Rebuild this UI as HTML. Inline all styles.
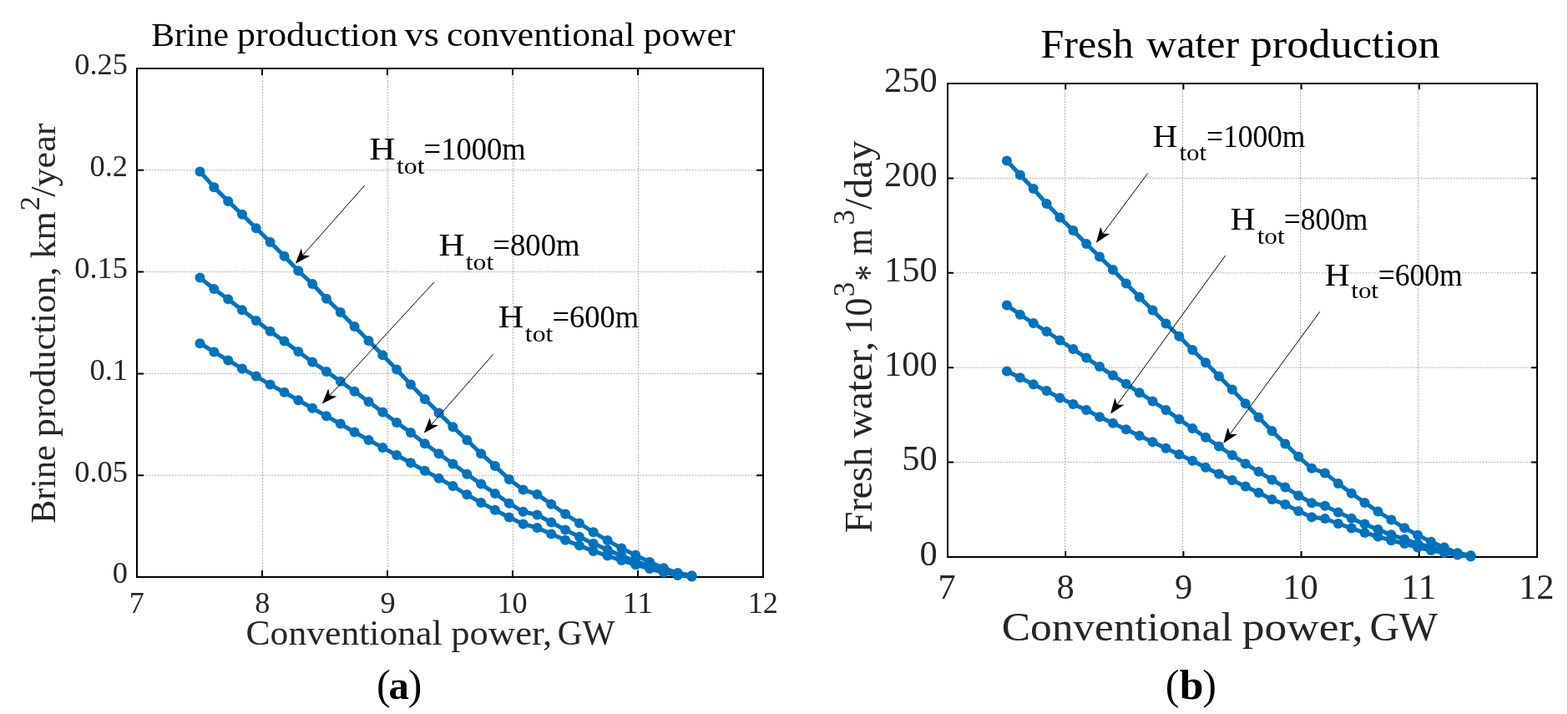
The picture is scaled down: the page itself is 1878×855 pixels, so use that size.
<!DOCTYPE html>
<html><head><meta charset="utf-8"><title>Brine and fresh water production</title>
<style>html,body{margin:0;padding:0;background:#fff;overflow:hidden}svg{display:block}</style></head>
<body><svg width="1878" height="855" viewBox="0 0 1878 855" font-family="'Liberation Serif', 'DejaVu Serif', serif" fill="#000">
<rect x="0" y="0" width="1878" height="855" fill="#fff"/>
<line x1="1877.5" y1="0" x2="1877.5" y2="855" stroke="#c4c4c4" stroke-width="1"/>
<path d="M314.5 82V691M464.5 82V691M614.5 82V691M764.5 82V691M164 569.2H914M164 447.4H914M164 325.6H914M164 203.8H914" stroke="#adadad" stroke-width="1" stroke-dasharray="2 1.5" fill="none"/>
<path d="M164.0 691v-8M164.0 82v8M314.0 691v-8M314.0 82v8M464.0 691v-8M464.0 82v8M614.0 691v-8M614.0 82v8M764.0 691v-8M764.0 82v8M914.0 691v-8M914.0 82v8M164 691.0h8M914 691.0h-8M164 569.2h8M914 569.2h-8M164 447.4h8M914 447.4h-8M164 325.6h8M914 325.6h-8M164 203.8h8M914 203.8h-8M164 82.0h8M914 82.0h-8" stroke="#000" stroke-width="2" fill="none"/>
<rect x="164" y="82" width="750" height="609" stroke="#000" stroke-width="2" fill="none"/>
<polyline points="239.5,205.4 256.3,224.2 273.2,240.9 290.0,256.7 306.8,273.3 323.6,290.0 340.5,306.7 357.3,324.2 374.1,340.0 391.0,357.7 407.8,374.0 424.6,391.0 441.5,408.1 458.3,425.3 475.1,442.5 491.9,460.4 508.8,477.9 525.6,494.4 542.4,511.2 559.3,527.0 576.1,543.2 592.9,558.1 609.8,573.9 626.6,586.5 643.4,591.9 660.2,603.8 677.1,615.6 693.9,626.5 710.7,637.3 727.6,647.1 744.4,656.6 761.2,664.8 778.1,673.0 794.9,680.3 811.7,686.0 828.5,689.3" fill="none" stroke="#0072BD" stroke-width="5" stroke-linejoin="round" stroke-linecap="round"/>
<g fill="#0072BD"><circle cx="239.5" cy="205.4" r="6"/><circle cx="256.3" cy="224.2" r="6"/><circle cx="273.2" cy="240.9" r="6"/><circle cx="290.0" cy="256.7" r="6"/><circle cx="306.8" cy="273.3" r="6"/><circle cx="323.6" cy="290.0" r="6"/><circle cx="340.5" cy="306.7" r="6"/><circle cx="357.3" cy="324.2" r="6"/><circle cx="374.1" cy="340.0" r="6"/><circle cx="391.0" cy="357.7" r="6"/><circle cx="407.8" cy="374.0" r="6"/><circle cx="424.6" cy="391.0" r="6"/><circle cx="441.5" cy="408.1" r="6"/><circle cx="458.3" cy="425.3" r="6"/><circle cx="475.1" cy="442.5" r="6"/><circle cx="491.9" cy="460.4" r="6"/><circle cx="508.8" cy="477.9" r="6"/><circle cx="525.6" cy="494.4" r="6"/><circle cx="542.4" cy="511.2" r="6"/><circle cx="559.3" cy="527.0" r="6"/><circle cx="576.1" cy="543.2" r="6"/><circle cx="592.9" cy="558.1" r="6"/><circle cx="609.8" cy="573.9" r="6"/><circle cx="626.6" cy="586.5" r="6"/><circle cx="643.4" cy="591.9" r="6"/><circle cx="660.2" cy="603.8" r="6"/><circle cx="677.1" cy="615.6" r="6"/><circle cx="693.9" cy="626.5" r="6"/><circle cx="710.7" cy="637.3" r="6"/><circle cx="727.6" cy="647.1" r="6"/><circle cx="744.4" cy="656.6" r="6"/><circle cx="761.2" cy="664.8" r="6"/><circle cx="778.1" cy="673.0" r="6"/><circle cx="794.9" cy="680.3" r="6"/><circle cx="811.7" cy="686.0" r="6"/><circle cx="828.5" cy="689.3" r="6"/></g>
<polyline points="239.5,332.6 256.3,346.0 273.2,358.2 290.0,371.2 306.8,384.0 323.6,396.7 340.5,408.6 357.3,420.9 374.1,433.4 391.0,444.9 407.8,456.8 424.6,468.8 441.5,481.0 458.3,493.6 475.1,506.0 491.9,517.9 508.8,531.2 525.6,543.3 542.4,555.5 559.3,567.7 576.1,579.6 592.9,590.9 609.8,602.8 626.6,612.8 643.4,616.5 660.2,625.5 677.1,634.5 693.9,642.7 710.7,650.9 727.6,658.2 744.4,665.6 761.2,672.1 778.1,677.9 794.9,683.0 811.7,687.5 828.5,690.0" fill="none" stroke="#0072BD" stroke-width="5" stroke-linejoin="round" stroke-linecap="round"/>
<g fill="#0072BD"><circle cx="239.5" cy="332.6" r="6"/><circle cx="256.3" cy="346.0" r="6"/><circle cx="273.2" cy="358.2" r="6"/><circle cx="290.0" cy="371.2" r="6"/><circle cx="306.8" cy="384.0" r="6"/><circle cx="323.6" cy="396.7" r="6"/><circle cx="340.5" cy="408.6" r="6"/><circle cx="357.3" cy="420.9" r="6"/><circle cx="374.1" cy="433.4" r="6"/><circle cx="391.0" cy="444.9" r="6"/><circle cx="407.8" cy="456.8" r="6"/><circle cx="424.6" cy="468.8" r="6"/><circle cx="441.5" cy="481.0" r="6"/><circle cx="458.3" cy="493.6" r="6"/><circle cx="475.1" cy="506.0" r="6"/><circle cx="491.9" cy="517.9" r="6"/><circle cx="508.8" cy="531.2" r="6"/><circle cx="525.6" cy="543.3" r="6"/><circle cx="542.4" cy="555.5" r="6"/><circle cx="559.3" cy="567.7" r="6"/><circle cx="576.1" cy="579.6" r="6"/><circle cx="592.9" cy="590.9" r="6"/><circle cx="609.8" cy="602.8" r="6"/><circle cx="626.6" cy="612.8" r="6"/><circle cx="643.4" cy="616.5" r="6"/><circle cx="660.2" cy="625.5" r="6"/><circle cx="677.1" cy="634.5" r="6"/><circle cx="693.9" cy="642.7" r="6"/><circle cx="710.7" cy="650.9" r="6"/><circle cx="727.6" cy="658.2" r="6"/><circle cx="744.4" cy="665.6" r="6"/><circle cx="761.2" cy="672.1" r="6"/><circle cx="778.1" cy="677.9" r="6"/><circle cx="794.9" cy="683.0" r="6"/><circle cx="811.7" cy="687.5" r="6"/><circle cx="828.5" cy="690.0" r="6"/></g>
<polyline points="239.5,411.2 256.3,421.4 273.2,431.4 290.0,441.4 306.8,450.6 323.6,460.6 340.5,469.8 357.3,479.3 374.1,488.7 391.0,498.2 407.8,507.6 424.6,517.5 441.5,526.9 458.3,536.0 475.1,545.0 491.9,554.3 508.8,563.7 525.6,572.8 542.4,582.1 559.3,592.3 576.1,601.9 592.9,610.7 609.8,619.5 626.6,627.5 643.4,632.0 660.2,639.4 677.1,646.8 693.9,653.3 710.7,659.9 727.6,665.6 744.4,671.0 761.2,676.2 778.1,681.0 794.9,685.5 811.7,689.0 828.5,690.5" fill="none" stroke="#0072BD" stroke-width="5" stroke-linejoin="round" stroke-linecap="round"/>
<g fill="#0072BD"><circle cx="239.5" cy="411.2" r="6"/><circle cx="256.3" cy="421.4" r="6"/><circle cx="273.2" cy="431.4" r="6"/><circle cx="290.0" cy="441.4" r="6"/><circle cx="306.8" cy="450.6" r="6"/><circle cx="323.6" cy="460.6" r="6"/><circle cx="340.5" cy="469.8" r="6"/><circle cx="357.3" cy="479.3" r="6"/><circle cx="374.1" cy="488.7" r="6"/><circle cx="391.0" cy="498.2" r="6"/><circle cx="407.8" cy="507.6" r="6"/><circle cx="424.6" cy="517.5" r="6"/><circle cx="441.5" cy="526.9" r="6"/><circle cx="458.3" cy="536.0" r="6"/><circle cx="475.1" cy="545.0" r="6"/><circle cx="491.9" cy="554.3" r="6"/><circle cx="508.8" cy="563.7" r="6"/><circle cx="525.6" cy="572.8" r="6"/><circle cx="542.4" cy="582.1" r="6"/><circle cx="559.3" cy="592.3" r="6"/><circle cx="576.1" cy="601.9" r="6"/><circle cx="592.9" cy="610.7" r="6"/><circle cx="609.8" cy="619.5" r="6"/><circle cx="626.6" cy="627.5" r="6"/><circle cx="643.4" cy="632.0" r="6"/><circle cx="660.2" cy="639.4" r="6"/><circle cx="677.1" cy="646.8" r="6"/><circle cx="693.9" cy="653.3" r="6"/><circle cx="710.7" cy="659.9" r="6"/><circle cx="727.6" cy="665.6" r="6"/><circle cx="744.4" cy="671.0" r="6"/><circle cx="761.2" cy="676.2" r="6"/><circle cx="778.1" cy="681.0" r="6"/><circle cx="794.9" cy="685.5" r="6"/><circle cx="811.7" cy="689.0" r="6"/><circle cx="828.5" cy="690.5" r="6"/></g>
<path d="M1275.5 100V667M1416.5 100V667M1557.5 100V667M1698.5 100V667M1135 553.6H1841M1135 440.2H1841M1135 326.8H1841M1135 213.4H1841" stroke="#adadad" stroke-width="1" stroke-dasharray="2 1.5" fill="none"/>
<path d="M1135.0 667v-7M1135.0 100v7M1276.2 667v-7M1276.2 100v7M1417.4 667v-7M1417.4 100v7M1558.6 667v-7M1558.6 100v7M1699.8 667v-7M1699.8 100v7M1841.0 667v-7M1841.0 100v7M1135 667.0h7M1841 667.0h-7M1135 553.6h7M1841 553.6h-7M1135 440.2h7M1841 440.2h-7M1135 326.8h7M1841 326.8h-7M1135 213.4h7M1841 213.4h-7M1135 100.0h7M1841 100.0h-7" stroke="#000" stroke-width="2" fill="none"/>
<rect x="1135" y="100" width="706" height="567" stroke="#000" stroke-width="2" fill="none"/>
<polyline points="1205.9,192.5 1221.8,209.5 1237.7,226.1 1253.5,244.0 1269.4,260.4 1285.3,276.1 1301.2,291.9 1317.0,307.6 1332.9,323.0 1348.8,339.5 1364.7,355.8 1380.5,371.6 1396.4,387.4 1412.3,402.8 1428.2,419.0 1444.0,434.2 1459.9,450.4 1475.8,466.5 1491.7,483.3 1507.5,499.8 1523.4,516.1 1539.3,531.4 1555.2,546.8 1571.0,560.8 1586.9,566.4 1602.8,578.9 1618.7,590.7 1634.5,601.9 1650.4,612.6 1666.3,622.5 1682.2,632.3 1698.0,640.7 1713.9,648.7 1729.8,655.6 1745.7,662.2 1761.5,665.2" fill="none" stroke="#0072BD" stroke-width="5" stroke-linejoin="round" stroke-linecap="round"/>
<g fill="#0072BD"><circle cx="1205.9" cy="192.5" r="6"/><circle cx="1221.8" cy="209.5" r="6"/><circle cx="1237.7" cy="226.1" r="6"/><circle cx="1253.5" cy="244.0" r="6"/><circle cx="1269.4" cy="260.4" r="6"/><circle cx="1285.3" cy="276.1" r="6"/><circle cx="1301.2" cy="291.9" r="6"/><circle cx="1317.0" cy="307.6" r="6"/><circle cx="1332.9" cy="323.0" r="6"/><circle cx="1348.8" cy="339.5" r="6"/><circle cx="1364.7" cy="355.8" r="6"/><circle cx="1380.5" cy="371.6" r="6"/><circle cx="1396.4" cy="387.4" r="6"/><circle cx="1412.3" cy="402.8" r="6"/><circle cx="1428.2" cy="419.0" r="6"/><circle cx="1444.0" cy="434.2" r="6"/><circle cx="1459.9" cy="450.4" r="6"/><circle cx="1475.8" cy="466.5" r="6"/><circle cx="1491.7" cy="483.3" r="6"/><circle cx="1507.5" cy="499.8" r="6"/><circle cx="1523.4" cy="516.1" r="6"/><circle cx="1539.3" cy="531.4" r="6"/><circle cx="1555.2" cy="546.8" r="6"/><circle cx="1571.0" cy="560.8" r="6"/><circle cx="1586.9" cy="566.4" r="6"/><circle cx="1602.8" cy="578.9" r="6"/><circle cx="1618.7" cy="590.7" r="6"/><circle cx="1634.5" cy="601.9" r="6"/><circle cx="1650.4" cy="612.6" r="6"/><circle cx="1666.3" cy="622.5" r="6"/><circle cx="1682.2" cy="632.3" r="6"/><circle cx="1698.0" cy="640.7" r="6"/><circle cx="1713.9" cy="648.7" r="6"/><circle cx="1729.8" cy="655.6" r="6"/><circle cx="1745.7" cy="662.2" r="6"/><circle cx="1761.5" cy="665.2" r="6"/></g>
<polyline points="1205.9,365.4 1221.8,376.8 1237.7,387.0 1253.5,397.0 1269.4,407.5 1285.3,418.1 1301.2,428.6 1317.0,439.1 1332.9,449.6 1348.8,459.8 1364.7,470.2 1380.5,480.5 1396.4,490.9 1412.3,502.1 1428.2,513.0 1444.0,523.8 1459.9,534.5 1475.8,545.0 1491.7,555.3 1507.5,564.8 1523.4,574.5 1539.3,583.5 1555.2,593.4 1571.0,602.3 1586.9,605.7 1602.8,613.5 1618.7,620.7 1634.5,627.6 1650.4,634.1 1666.3,640.3 1682.2,645.7 1698.0,651.0 1713.9,655.5 1729.8,659.5 1745.7,663.0 1761.5,665.5" fill="none" stroke="#0072BD" stroke-width="5" stroke-linejoin="round" stroke-linecap="round"/>
<g fill="#0072BD"><circle cx="1205.9" cy="365.4" r="6"/><circle cx="1221.8" cy="376.8" r="6"/><circle cx="1237.7" cy="387.0" r="6"/><circle cx="1253.5" cy="397.0" r="6"/><circle cx="1269.4" cy="407.5" r="6"/><circle cx="1285.3" cy="418.1" r="6"/><circle cx="1301.2" cy="428.6" r="6"/><circle cx="1317.0" cy="439.1" r="6"/><circle cx="1332.9" cy="449.6" r="6"/><circle cx="1348.8" cy="459.8" r="6"/><circle cx="1364.7" cy="470.2" r="6"/><circle cx="1380.5" cy="480.5" r="6"/><circle cx="1396.4" cy="490.9" r="6"/><circle cx="1412.3" cy="502.1" r="6"/><circle cx="1428.2" cy="513.0" r="6"/><circle cx="1444.0" cy="523.8" r="6"/><circle cx="1459.9" cy="534.5" r="6"/><circle cx="1475.8" cy="545.0" r="6"/><circle cx="1491.7" cy="555.3" r="6"/><circle cx="1507.5" cy="564.8" r="6"/><circle cx="1523.4" cy="574.5" r="6"/><circle cx="1539.3" cy="583.5" r="6"/><circle cx="1555.2" cy="593.4" r="6"/><circle cx="1571.0" cy="602.3" r="6"/><circle cx="1586.9" cy="605.7" r="6"/><circle cx="1602.8" cy="613.5" r="6"/><circle cx="1618.7" cy="620.7" r="6"/><circle cx="1634.5" cy="627.6" r="6"/><circle cx="1650.4" cy="634.1" r="6"/><circle cx="1666.3" cy="640.3" r="6"/><circle cx="1682.2" cy="645.7" r="6"/><circle cx="1698.0" cy="651.0" r="6"/><circle cx="1713.9" cy="655.5" r="6"/><circle cx="1729.8" cy="659.5" r="6"/><circle cx="1745.7" cy="663.0" r="6"/><circle cx="1761.5" cy="665.5" r="6"/></g>
<polyline points="1205.9,444.4 1221.8,452.3 1237.7,460.2 1253.5,468.1 1269.4,476.5 1285.3,484.0 1301.2,490.9 1317.0,499.3 1332.9,506.8 1348.8,514.3 1364.7,521.8 1380.5,529.2 1396.4,536.7 1412.3,544.2 1428.2,551.7 1444.0,559.8 1459.9,567.6 1475.8,575.1 1491.7,582.6 1507.5,590.1 1523.4,598.1 1539.3,604.1 1555.2,611.9 1571.0,619.2 1586.9,621.0 1602.8,627.0 1618.7,632.6 1634.5,637.9 1650.4,642.5 1666.3,647.2 1682.2,651.0 1698.0,655.6 1713.9,659.0 1729.8,662.0 1745.7,664.5 1761.5,666.5" fill="none" stroke="#0072BD" stroke-width="5" stroke-linejoin="round" stroke-linecap="round"/>
<g fill="#0072BD"><circle cx="1205.9" cy="444.4" r="6"/><circle cx="1221.8" cy="452.3" r="6"/><circle cx="1237.7" cy="460.2" r="6"/><circle cx="1253.5" cy="468.1" r="6"/><circle cx="1269.4" cy="476.5" r="6"/><circle cx="1285.3" cy="484.0" r="6"/><circle cx="1301.2" cy="490.9" r="6"/><circle cx="1317.0" cy="499.3" r="6"/><circle cx="1332.9" cy="506.8" r="6"/><circle cx="1348.8" cy="514.3" r="6"/><circle cx="1364.7" cy="521.8" r="6"/><circle cx="1380.5" cy="529.2" r="6"/><circle cx="1396.4" cy="536.7" r="6"/><circle cx="1412.3" cy="544.2" r="6"/><circle cx="1428.2" cy="551.7" r="6"/><circle cx="1444.0" cy="559.8" r="6"/><circle cx="1459.9" cy="567.6" r="6"/><circle cx="1475.8" cy="575.1" r="6"/><circle cx="1491.7" cy="582.6" r="6"/><circle cx="1507.5" cy="590.1" r="6"/><circle cx="1523.4" cy="598.1" r="6"/><circle cx="1539.3" cy="604.1" r="6"/><circle cx="1555.2" cy="611.9" r="6"/><circle cx="1571.0" cy="619.2" r="6"/><circle cx="1586.9" cy="621.0" r="6"/><circle cx="1602.8" cy="627.0" r="6"/><circle cx="1618.7" cy="632.6" r="6"/><circle cx="1634.5" cy="637.9" r="6"/><circle cx="1650.4" cy="642.5" r="6"/><circle cx="1666.3" cy="647.2" r="6"/><circle cx="1682.2" cy="651.0" r="6"/><circle cx="1698.0" cy="655.6" r="6"/><circle cx="1713.9" cy="659.0" r="6"/><circle cx="1729.8" cy="662.0" r="6"/><circle cx="1745.7" cy="664.5" r="6"/><circle cx="1761.5" cy="666.5" r="6"/></g>
<line x1="436.7" y1="222.1" x2="362.8" y2="305.5" stroke="#000" stroke-width="1"/>
<path d="M353.8 315.7L360.8 297.4L362.8 305.5L371.2 306.5Z" fill="#000"/>
<line x1="519.9" y1="337.9" x2="395.0" y2="473.6" stroke="#000" stroke-width="1"/>
<path d="M385.8 483.6L393.2 465.4L395.0 473.6L403.3 474.7Z" fill="#000"/>
<line x1="590.6" y1="424.4" x2="516.7" y2="508.4" stroke="#000" stroke-width="1"/>
<path d="M507.7 518.6L514.7 500.2L516.7 508.4L525.0 509.3Z" fill="#000"/>
<line x1="1374.6" y1="207.6" x2="1320.9" y2="279.8" stroke="#000" stroke-width="1"/>
<path d="M1312.8 290.7L1318.2 271.8L1320.9 279.8L1329.3 280.1Z" fill="#000"/>
<line x1="1467.7" y1="305.9" x2="1338.1" y2="484.5" stroke="#000" stroke-width="1"/>
<path d="M1330.1 495.5L1335.3 476.6L1338.1 484.5L1346.5 484.7Z" fill="#000"/>
<line x1="1580.8" y1="373.2" x2="1473.3" y2="519.7" stroke="#000" stroke-width="1"/>
<path d="M1465.3 530.7L1470.6 511.8L1473.3 519.7L1481.7 519.9Z" fill="#000"/>
<text x="181.30" y="54.80" font-size="40.3" textLength="92.65" lengthAdjust="spacingAndGlyphs">Brine</text>
<text x="283.88" y="54.80" font-size="40.3" textLength="192.49" lengthAdjust="spacingAndGlyphs">production</text>
<text x="484.40" y="54.80" font-size="40.3" textLength="41.49" lengthAdjust="spacingAndGlyphs">vs</text>
<text x="535.04" y="54.80" font-size="40.3" textLength="225.23" lengthAdjust="spacingAndGlyphs">conventional</text>
<text x="770.49" y="54.80" font-size="40.3" textLength="110.20" lengthAdjust="spacingAndGlyphs">power</text>
<text x="134.80" y="698.40" font-size="36.4" textLength="18.20" lengthAdjust="spacingAndGlyphs" fill="#262626">0</text>
<text x="89.30" y="576.60" font-size="36.4" textLength="63.70" lengthAdjust="spacingAndGlyphs" fill="#262626">0.05</text>
<text x="107.50" y="454.80" font-size="36.4" textLength="45.50" lengthAdjust="spacingAndGlyphs" fill="#262626">0.1</text>
<text x="89.30" y="333.00" font-size="36.4" textLength="63.70" lengthAdjust="spacingAndGlyphs" fill="#262626">0.15</text>
<text x="107.50" y="211.20" font-size="36.4" textLength="45.50" lengthAdjust="spacingAndGlyphs" fill="#262626">0.2</text>
<text x="89.30" y="89.40" font-size="36.4" textLength="63.70" lengthAdjust="spacingAndGlyphs" fill="#262626">0.25</text>
<text x="154.68" y="733.80" font-size="36.2" textLength="18.10" lengthAdjust="spacingAndGlyphs" fill="#262626">7</text>
<text x="305.35" y="733.80" font-size="36.2" textLength="18.10" lengthAdjust="spacingAndGlyphs" fill="#262626">8</text>
<text x="455.51" y="733.80" font-size="36.2" textLength="18.10" lengthAdjust="spacingAndGlyphs" fill="#262626">9</text>
<text x="595.40" y="733.80" font-size="36.2" textLength="36.20" lengthAdjust="spacingAndGlyphs" fill="#262626">10</text>
<text x="745.80" y="733.80" font-size="36.2" textLength="36.20" lengthAdjust="spacingAndGlyphs" fill="#262626">11</text>
<text x="895.71" y="733.80" font-size="36.2" textLength="36.20" lengthAdjust="spacingAndGlyphs" fill="#262626">12</text>
<text x="294.51" y="771.70" font-size="42.3" textLength="235.06" lengthAdjust="spacingAndGlyphs" fill="#262626">Conventional</text>
<text x="540.29" y="771.70" font-size="42.3" textLength="120.98" lengthAdjust="spacingAndGlyphs" fill="#262626">power,</text>
<text x="667.81" y="771.70" font-size="42.3" textLength="68.77" lengthAdjust="spacingAndGlyphs" fill="#262626">GW</text>
<text transform="translate(66.40,625.50) rotate(-90)" x="-1.21" y="0" font-size="41.8" textLength="93.47" lengthAdjust="spacingAndGlyphs" fill="#262626">Brine</text>
<text transform="translate(66.40,522.50) rotate(-90)" x="-0.72" y="0" font-size="41.8" textLength="203.92" lengthAdjust="spacingAndGlyphs" fill="#262626">production,</text>
<text transform="translate(66.40,308.60) rotate(-90)" x="-0.84" y="0" font-size="41.8" textLength="56.12" lengthAdjust="spacingAndGlyphs" fill="#262626">km</text>
<text transform="translate(47.20,250.70) rotate(-90)" x="-1.51" y="0" font-size="33.5" textLength="17.21" lengthAdjust="spacingAndGlyphs" fill="#262626">2</text>
<text transform="translate(66.40,235.80) rotate(-90)" x="-0.00" y="0" font-size="41.8" textLength="88.29" lengthAdjust="spacingAndGlyphs" fill="#262626">/year</text>
<text x="1246.56" y="69.00" font-size="48.9" textLength="111.20" lengthAdjust="spacingAndGlyphs">Fresh</text>
<text x="1373.05" y="69.00" font-size="48.9" textLength="110.99" lengthAdjust="spacingAndGlyphs">water</text>
<text x="1497.45" y="69.00" font-size="48.9" textLength="227.24" lengthAdjust="spacingAndGlyphs">production</text>
<text x="1101.40" y="676.80" font-size="42.4" textLength="21.20" lengthAdjust="spacingAndGlyphs" fill="#262626">0</text>
<text x="1080.20" y="563.40" font-size="42.4" textLength="42.40" lengthAdjust="spacingAndGlyphs" fill="#262626">50</text>
<text x="1059.00" y="450.00" font-size="42.4" textLength="63.60" lengthAdjust="spacingAndGlyphs" fill="#262626">100</text>
<text x="1059.00" y="336.60" font-size="42.4" textLength="63.60" lengthAdjust="spacingAndGlyphs" fill="#262626">150</text>
<text x="1059.00" y="223.20" font-size="42.4" textLength="63.60" lengthAdjust="spacingAndGlyphs" fill="#262626">200</text>
<text x="1059.00" y="109.80" font-size="42.4" textLength="63.60" lengthAdjust="spacingAndGlyphs" fill="#262626">250</text>
<text x="1123.61" y="716.90" font-size="42.4" textLength="21.20" lengthAdjust="spacingAndGlyphs" fill="#262626">7</text>
<text x="1265.60" y="716.90" font-size="42.4" textLength="21.20" lengthAdjust="spacingAndGlyphs" fill="#262626">8</text>
<text x="1406.99" y="716.90" font-size="42.4" textLength="21.20" lengthAdjust="spacingAndGlyphs" fill="#262626">9</text>
<text x="1536.34" y="716.90" font-size="42.4" textLength="42.40" lengthAdjust="spacingAndGlyphs" fill="#262626">10</text>
<text x="1678.01" y="716.90" font-size="42.4" textLength="42.40" lengthAdjust="spacingAndGlyphs" fill="#262626">11</text>
<text x="1819.11" y="716.90" font-size="42.4" textLength="42.40" lengthAdjust="spacingAndGlyphs" fill="#262626">12</text>
<text x="1199.69" y="767.00" font-size="48.2" textLength="276.84" lengthAdjust="spacingAndGlyphs" fill="#262626">Conventional</text>
<text x="1487.85" y="767.00" font-size="48.2" textLength="144.77" lengthAdjust="spacingAndGlyphs" fill="#262626">power,</text>
<text x="1640.49" y="767.00" font-size="48.2" textLength="81.60" lengthAdjust="spacingAndGlyphs" fill="#262626">GW</text>
<text transform="translate(1044.40,636.80) rotate(-90)" x="-1.33" y="0" font-size="46.5" textLength="102.44" lengthAdjust="spacingAndGlyphs" fill="#262626">Fresh</text>
<text transform="translate(1044.40,524.60) rotate(-90)" x="-0.05" y="0" font-size="46.5" textLength="115.70" lengthAdjust="spacingAndGlyphs" fill="#262626">water,</text>
<text transform="translate(1044.40,396.50) rotate(-90)" x="-3.86" y="0" font-size="46.5" textLength="43.93" lengthAdjust="spacingAndGlyphs" fill="#262626">10</text>
<text transform="translate(1022.60,353.70) rotate(-90)" x="-1.67" y="0" font-size="35.4" textLength="17.43" lengthAdjust="spacingAndGlyphs" fill="#262626">3</text>
<text transform="translate(1056.70,334.80) rotate(-90)" x="-1.91" y="0" font-size="49" textLength="19.59" lengthAdjust="spacingAndGlyphs" fill="#262626">*</text>
<text transform="translate(1044.40,304.70) rotate(-90)" x="-0.84" y="0" font-size="46.5" textLength="31.27" lengthAdjust="spacingAndGlyphs" fill="#262626">m</text>
<text transform="translate(1022.60,267.80) rotate(-90)" x="-1.76" y="0" font-size="35.4" textLength="18.40" lengthAdjust="spacingAndGlyphs" fill="#262626">3</text>
<text transform="translate(1044.40,251.00) rotate(-90)" x="-0.00" y="0" font-size="46.5" textLength="82.79" lengthAdjust="spacingAndGlyphs" fill="#262626">/day</text>
<text x="442.35" y="191.10" font-size="37.5" textLength="31.21" lengthAdjust="spacingAndGlyphs">H</text>
<text x="474.99" y="207.60" font-size="26.7" textLength="33.50" lengthAdjust="spacingAndGlyphs">tot</text>
<text x="507.58" y="191.10" font-size="37.5" textLength="121.99" lengthAdjust="spacingAndGlyphs">=1000m</text>
<text x="525.56" y="306.10" font-size="37.5" textLength="31.10" lengthAdjust="spacingAndGlyphs">H</text>
<text x="557.79" y="322.60" font-size="26.7" textLength="33.50" lengthAdjust="spacingAndGlyphs">tot</text>
<text x="590.37" y="306.10" font-size="37.5" textLength="104.20" lengthAdjust="spacingAndGlyphs">=800m</text>
<text x="596.68" y="392.30" font-size="37.5" textLength="30.67" lengthAdjust="spacingAndGlyphs">H</text>
<text x="628.89" y="409.30" font-size="26.7" textLength="33.50" lengthAdjust="spacingAndGlyphs">tot</text>
<text x="661.48" y="392.30" font-size="37.5" textLength="103.58" lengthAdjust="spacingAndGlyphs">=600m</text>
<text x="1380.51" y="176.00" font-size="37.5" textLength="29.91" lengthAdjust="spacingAndGlyphs">H</text>
<text x="1412.40" y="192.40" font-size="26.7" textLength="32.68" lengthAdjust="spacingAndGlyphs">tot</text>
<text x="1444.93" y="176.00" font-size="37.5" textLength="118.52" lengthAdjust="spacingAndGlyphs">=1000m</text>
<text x="1473.50" y="274.80" font-size="37.5" textLength="30.12" lengthAdjust="spacingAndGlyphs">H</text>
<text x="1505.70" y="291.50" font-size="26.7" textLength="32.89" lengthAdjust="spacingAndGlyphs">tot</text>
<text x="1537.84" y="274.80" font-size="37.5" textLength="100.51" lengthAdjust="spacingAndGlyphs">=800m</text>
<text x="1586.60" y="341.60" font-size="37.5" textLength="30.12" lengthAdjust="spacingAndGlyphs">H</text>
<text x="1618.30" y="357.40" font-size="26.7" textLength="32.68" lengthAdjust="spacingAndGlyphs">tot</text>
<text x="1650.83" y="341.60" font-size="37.5" textLength="100.72" lengthAdjust="spacingAndGlyphs">=600m</text>
<text x="451.00" y="836.60" font-size="50" textLength="16.65" lengthAdjust="spacingAndGlyphs">(</text>
<text x="488.74" y="836.60" font-size="50" textLength="16.65" lengthAdjust="spacingAndGlyphs">)</text>
<text x="465.58" y="837.40" font-size="48.8" font-weight="bold" textLength="24.40" lengthAdjust="spacingAndGlyphs">a</text>
<text x="1395.80" y="836.60" font-size="50" textLength="16.65" lengthAdjust="spacingAndGlyphs">(</text>
<text x="1440.14" y="836.60" font-size="50" textLength="16.65" lengthAdjust="spacingAndGlyphs">)</text>
<text x="1412.70" y="837.40" font-size="51.5" font-weight="bold" textLength="28.64" lengthAdjust="spacingAndGlyphs">b</text>
</svg></body></html>
